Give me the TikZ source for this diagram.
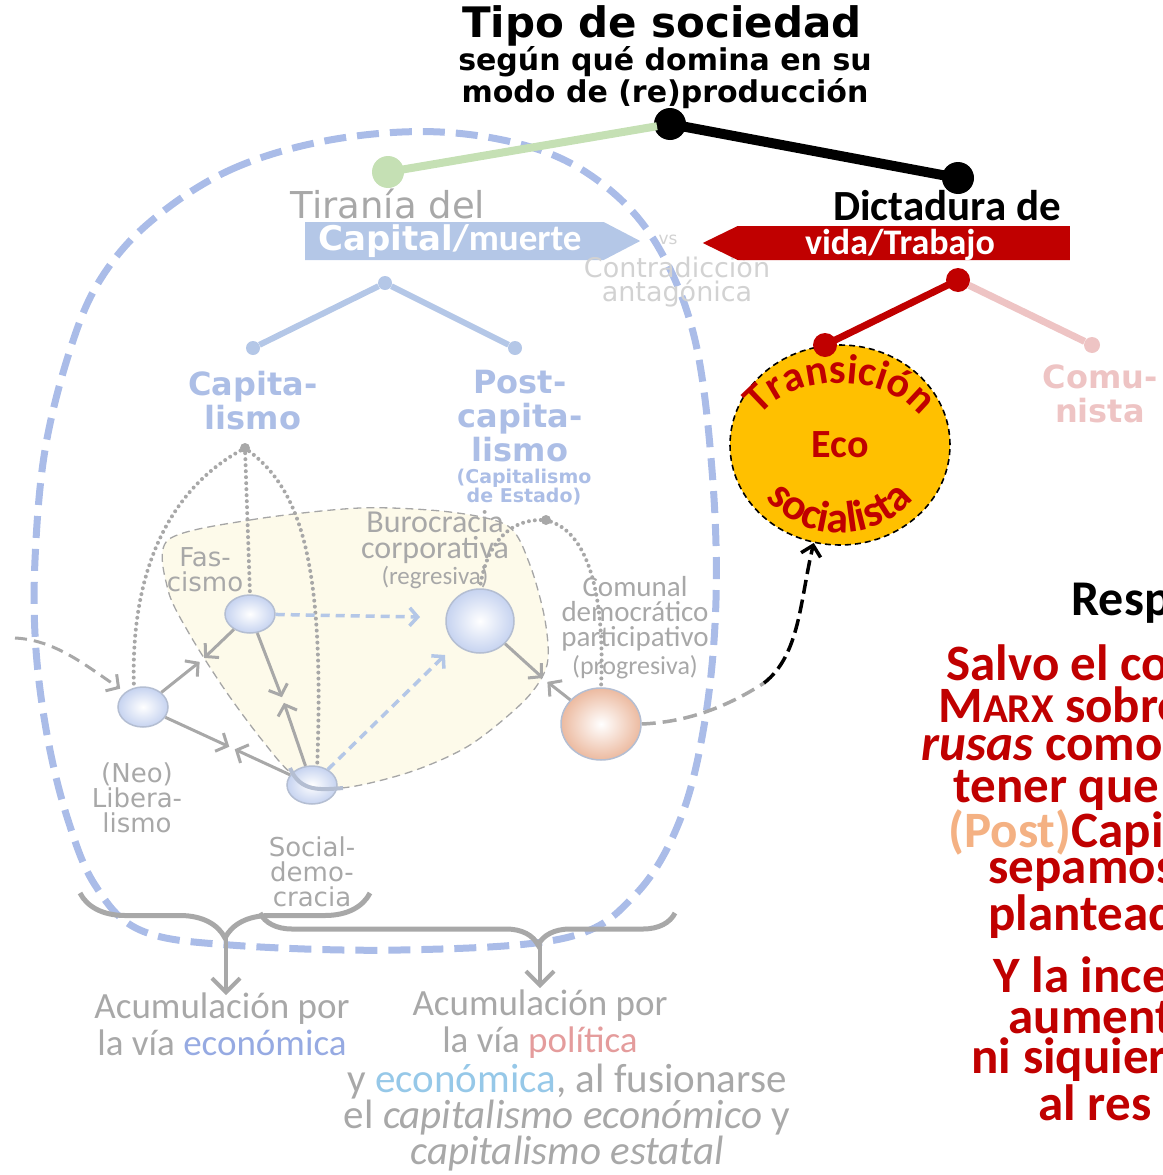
\documentclass[tikz,border=0pt]{standalone}
\usepackage{fontspec}
\setmainfont{Carlito}
\newfontfamily\verd{DejaVu Sans}
\usetikzlibrary{arrows.meta}
\usetikzlibrary{shapes.geometric,shapes.arrows}
\usetikzlibrary{decorations.text,decorations.pathreplacing}
\definecolor{loopblue}{RGB}{170,188,232}
\definecolor{capblue}{RGB}{180,199,231}
\definecolor{txtblue}{RGB}{172,190,230}
\definecolor{fadegray}{RGB}{168,168,168}
\definecolor{palegray}{RGB}{210,210,210}
\definecolor{ecored}{RGB}{192,0,0}
\definecolor{ecoyellow}{RGB}{255,192,0}
\definecolor{leafgreen}{RGB}{197,224,180}
\definecolor{pinkfade}{RGB}{238,196,196}
\definecolor{cream}{RGB}{253,250,234}
\definecolor{nodeblue}{RGB}{198,211,240}
\definecolor{nodeedge}{RGB}{180,190,210}
\definecolor{peach}{RGB}{236,186,160}
\definecolor{postpeach}{RGB}{244,177,131}
\definecolor{ecoblue}{RGB}{150,170,226}
\definecolor{skyblue}{RGB}{150,200,232}
\definecolor{polpink}{RGB}{228,156,156}
\newcommand\fsz[2]{\fontsize{#1}{#2}\selectfont}
\newcommand\ecofont{\bfseries\fontsize{42}{42}\selectfont}
\newcommand\socfont{\bfseries\fontsize{44}{44}\selectfont}

\begin{document}
\begin{tikzpicture}[x=1pt, y=-1pt,
		bigdot/.style={circle, fill=black, minimum size=32pt, inner sep=0pt},
		reddot/.style={circle, fill=ecored, minimum size=24pt, inner sep=0pt},
		bluedot/.style={circle, fill=capblue, minimum size=14pt, inner sep=0pt},
		graydot/.style={circle, fill=fadegray, minimum size=10pt, inner sep=0pt},
		netnode/.style={ellipse, draw=nodeedge, line width=1.5pt, inner color=white, outer color=nodeblue, inner sep=0pt},
		bluetxt/.style={font=\verd\bfseries\fsz{32}{34}, text=txtblue, align=center},
		nettxt/.style={font=\verd\fsz{26}{25}, text=fadegray, align=center},
		caltxt/.style={font=\fsz{29}{25}, text=fadegray, align=center},
		bottxt/.style={font=\fsz{37}{37}, text=fadegray, align=center},
		redtxt/.style={font=\bfseries\fsz{51}{42}, text=ecored, anchor=west},
		grayarr/.style={draw=fadegray, line width=3pt, shorten >=3pt, -{Straight Barb[length=9pt, width=20pt]}},
		bluedarr/.style={draw=capblue, line width=3.5pt, dash pattern=on 9pt off 6pt, -{Straight Barb[length=8pt, width=18pt]}},
		dotline/.style={draw=fadegray, line width=4pt, line cap=round, dash pattern=on 0pt off 6pt},
		brc/.style={draw=fadegray, line width=5pt, decorate, decoration={brace, mirror, amplitude=#1}},
		brcarr/.style={draw=fadegray, line width=4pt, -{Straight Barb[length=14pt, width=28pt]}}
	]
	\useasboundingbox (0,0) rectangle (1162,1175);
	\clip (0,0) rectangle (1162,1175);
	% outer dashed loop
	\draw[loopblue, line width=7pt, dash pattern=on 22pt off 11pt] plot[smooth cycle, tension=0.6] coordinates {(150,222) (230,170) (330,140) (440,132) (540,150) (610,190) (660,250) (695,340) (712,470) (716,600) (705,720) (680,820) (635,895) (565,938) (400,950) (230,945) (140,930) (95,885) (68,820) (48,740) (36,650) (35,560) (45,450) (70,350) (100,280)};
	% blob of the state forms
	\draw[fill=cream, draw=gray!70, line width=1.3pt, dash pattern=on 8pt off 5pt] plot[smooth cycle, tension=0.5] coordinates {(168,540) (250,520) (360,508) (450,512) (508,526) (530,565) (545,620) (547,665) (525,700) (470,745) (410,772) (340,788) (295,776) (262,740) (225,690) (190,635) (168,590)};

	% title
	\node[font=\verd\bfseries\fsz{42}{44}] (title) at (662,26) {Tipo de sociedad};
	\node[font=\verd\bfseries\fsz{30}{32}, align=center] (subt) at (665,78) {según qué domina en su\\modo de (re)producción};
	\node[bigdot] (root) at (670,124) {};
	\node[bigdot, fill=leafgreen] (capd) at (388,172) {};
	\node[bigdot] (dicd) at (958,178) {};
	\draw[leafgreen, line width=8pt, shorten <=-3pt, shorten >=-3pt] (capd) -- (root);
	\draw[black, line width=10pt, shorten <=-3pt, shorten >=-3pt] (root) -- (dicd);

	% the two sides of the contradiction
	\node[font=\verd\fsz{37}{38}, text=fadegray] (tir) at (388,204) {Tiranía del};
	\node[single arrow, fill=capblue, single arrow head extend=0pt, single arrow tip angle=55, minimum height=335pt, minimum width=38pt, inner sep=0pt, anchor=tail] (capar) at (305,241) {};
	\node[text=white, anchor=west, inner sep=0pt] (capt) at (318,241) {{\verd\bfseries\fsz{34}{34}Capital}{\bfseries\fsz{37}{37}/muerte}};
	\node[font=\verd\fsz{17}{17}, text=palegray] (vs) at (668,240) {vs};
	\node[font=\verd\fsz{27}{24}, text=palegray, align=center] (contra) at (677,282) {Contradicción\\antagónica};
	\node[single arrow, shape border rotate=180, fill=ecored, single arrow head extend=0pt, single arrow tip angle=52, minimum height=367pt, minimum width=34pt, inner sep=0pt, anchor=tail] (vidar) at (1070,243) {};
	\node[font=\bfseries\fsz{36}{36}, text=white] (vidt) at (900,245) {vida/Trabajo};
	\node[font=\bfseries\fsz{43}{43}] (dict) at (947,206) {Dictadura de};

	% blue tree
	\node[bluedot] (tb) at (385,283) {};
	\node[bluedot] (tl) at (253,348) {};
	\node[bluedot] (tr) at (515,348) {};
	\draw[capblue, line width=6pt] (tl) -- (tb) -- (tr);
	\node[bluetxt] (capl) at (253,401) {Capita-\\lismo};
	\node[bluetxt] (postl) at (520,416) {Post-\\capita-\\lismo};
	\node[font=\verd\bfseries\fsz{19}{18}, text=txtblue, align=center] (pstate) at (524,487) {(Capitalismo\\de Estado)};

	% red tree and the ball
	\node[ellipse, draw=black, line width=1.6pt, dash pattern=on 6pt off 4pt, fill=ecoyellow, minimum width=220pt, minimum height=200pt, font=\bfseries\fsz{40}{40}, text=ecored] (eco) at (840,445) {Eco};
	\path[decorate, decoration={text along path, text align=center, text color=ecored, text={|\ecofont|Transición}}] ([shift={(162:90pt and 62pt)}]eco.center) arc[start angle=162, end angle=18, x radius=90pt, y radius=62pt];
	\path[decorate, decoration={text along path, text align=center, text color=ecored, text={|\socfont|socialista}}] ([shift={(196:93pt and 88pt)}]eco.center) arc[start angle=196, end angle=344, x radius=93pt, y radius=88pt];
	\node[reddot] (vd) at (958,280) {};
	\node[reddot] (td) at (825,345) {};
	\node[circle, fill=pinkfade, minimum size=16pt, inner sep=0pt] (cd) at (1092,345) {};
	\draw[ecored, line width=7pt, shorten <=-2pt, shorten >=-2pt] (vd) -- (td);
	\draw[pinkfade, line width=7pt] (vd) -- (cd);
	\node[font=\verd\bfseries\fsz{32}{34}, text=pinkfade, align=center] (comu) at (1100,394) {Comu-\\nista};

	% network of regimes
	\node[graydot] (cg) at (245,448) {};
	\node[graydot] (pg) at (546,520) {};
	\node[netnode, minimum width=50pt, minimum height=40pt] (neo) at (143,707) {};
	\node[netnode, minimum width=50pt, minimum height=38pt] (fas) at (250,614) {};
	\node[netnode, minimum width=50pt, minimum height=38pt] (soc) at (312,785) {};
	\node[netnode, minimum width=68pt, minimum height=64pt] (bur) at (480,621) {};
	\node[netnode, outer color=peach, minimum width=80pt, minimum height=72pt] (com) at (601,724) {};
	\draw[nodeedge, line width=4pt] (290,768) .. controls (300,792) and (320,790) .. (343,788);
	\coordinate (mfn) at (202,660);
	\coordinate (mns) at (232,748);
	\coordinate (mfs) at (283,700);
	\coordinate (mbc) at (545,680);
	\coordinate (fb) at (420,617);
	\coordinate (sb) at (445,655);
	\coordinate (lin) at (15,638);
	\coordinate (bend) at (764,683);
	\draw[dotline] (cg) .. controls (170,490) and (130,570) .. (neo.115);
	\draw[dotline] (cg) -- (fas.north);
	\draw[dotline] (cg) .. controls (300,490) and (325,560) .. (soc.75);
	\draw[dotline] (pg) .. controls (505,520) and (485,550) .. (bur.north);
	\draw[dotline] (pg) .. controls (590,535) and (605,600) .. (com.north);
	\foreach \a/\b in {neo/mfn, fas/mfn, neo/mns, soc/mns, fas/mfs, soc/mfs, bur/mbc, com/mbc}
		\draw[grayarr] (\a) -- (\b);
	\draw[bluedarr] (fas) -- (fb);
	\draw[bluedarr] (soc) -- (sb);
	\draw[fadegray, line width=3pt, dash pattern=on 12pt off 7pt, shorten >=6pt, -{Straight Barb[length=9pt, width=20pt]}] (lin) .. controls (55,640) and (85,665) .. (neo.140);
	\draw[fadegray, line width=3.5pt, dash pattern=on 14pt off 7pt] (com.east) .. controls (690,722) and (730,705) .. (bend);
	\draw[black, line width=3.5pt, dash pattern=on 14pt off 6pt, -{Straight Barb[length=10pt, width=20pt]}] (bend) .. controls (800,655) and (800,600) .. (eco.255);
	\node[nettxt] (fast) at (205,570) {Fas-\\cismo};
	\node[font=\fsz{32}{26}, text=fadegray, align=center] (burt) at (435,537) {Burocracia\\corporativa};
	\node[font=\fsz{25}{25}, text=fadegray] (regt) at (435,577) {(regresiva)};
	\node[caltxt] (comt) at (635,614) {Comunal\\democrático\\participativo};
	\node[font=\fsz{26}{26}, text=fadegray] (progt) at (635,667) {(progresiva)};
	\node[nettxt] (neot) at (137,798) {(Neo)\\Libera-\\lismo};
	\node[nettxt] (soct) at (312,872) {Social-\\demo-\\cracia};

	% braces and accumulation
	\draw[brc=45pt] (80,893) -- (370,893);
	\draw[brc=32pt, decoration={aspect=0.67}] (260,913) -- (675,913);
	\coordinate (t1) at (226,938);
	\coordinate (a1) at (226,995);
	\coordinate (t2) at (540,944);
	\coordinate (a2) at (540,988);
	\draw[brcarr] (t1) -- (a1);
	\draw[brcarr] (t2) -- (a2);
	\node[bottxt] (acl) at (222,1024) {Acumulación por\\la vía \textcolor{ecoblue}{económica}};
	\node[bottxt] (acr) at (540,1024) {Acumulación por\\la vía \textcolor{polpink}{política}};
	\node[bottxt, font=\fsz{41}{36}] (fus) at (567,1118) {y \textcolor{skyblue}{económica}, al fusionarse\\el \textit{capitalismo económico} y\\\textit{capitalismo estatal}};

	% answer on the right, cut by the frame
	\node[font=\bfseries\fsz{50}{50}, anchor=west] (resp) at (1068,603) {Resp};
	\foreach \x/\y/\t [count=\i] in {943/663/Salvo el co, 935/705/{M{\fsz{41}{41}ARX} sobre}, 918/748/{\textit{rusas} como}, 950/790/tener que, 945/833/{\textcolor{postpeach}{(Post)}Capit}, 985/875/sepamos, 985/917/planteado, 990/975/Y la ince, 1005/1018/aument, 968/1060/ni siquiera, 1035/1103/al res}
		\node[redtxt] (r\i) at (\x,\y) {\t};
\end{tikzpicture}
\end{document}
